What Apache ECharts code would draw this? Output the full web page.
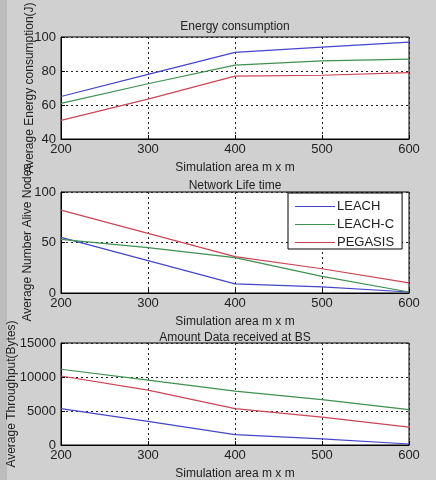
<!DOCTYPE html>
<html>
<head>
<meta charset="utf-8">
<script src="https://cdn.jsdelivr.net/npm/echarts@6/dist/echarts.min.js"></script>
<style>
html,body{margin:0;padding:0;background:#d0d0d0;}
#main{width:436px;height:480px;}
</style>
</head>
<body>
<div id="main"></div>
<script>
// simulation area (m x m)
var areas = [200, 300, 400, 500, 600];
var names = ['LEACH', 'LEACH-C', 'PEGASIS'];

// Energy consumption
var energyLeach = [65, 78, 91, 94, 97];
var energyLeachC = [61, 72.5, 83.5, 86, 87];
var energyPegasis = [51, 63.5, 77, 77.5, 79];

// Network life time
var lifeLeach = [55, 32, 9, 6, 1];
var lifeLeachC = [53, 45, 35, 16.5, 1];
var lifePegasis = [82, 59, 36, 24, 10];

// Amount data received at BS
var dataLeach = [5350, 3470, 1530, 890, 150];
var dataLeachC = [11140, 9550, 7920, 6680, 5200];
var dataPegasis = [10150, 8070, 5350, 4110, 2620];

var colors = ['#4545cc', '#3e9150', '#cc4455'];
var font = 'Liberation Sans';

function pairs(ys) {
    return areas.map(function (x, i) { return [x, ys[i]]; });
}

function makeX(idx) {
    return {
        type: 'value', gridIndex: idx, min: 200, max: 600, interval: 100,
        name: 'Simulation area m x m', nameLocation: 'middle', nameGap: 23,
        nameMoveOverlap: false,
        nameTextStyle: {color: '#222', fontSize: 12, fontFamily: font},
        axisLine: {show: true, lineStyle: {color: '#000'}},
        axisTick: {show: true, inside: true, length: 4, lineStyle: {color: '#000'}},
        axisLabel: {color: '#222', fontSize: 13, fontFamily: font, margin: 4},
        splitLine: {show: true, lineStyle: {color: '#222', type: [2, 3], width: 1}}
    };
}

function makeY(idx, min, max, step, title, gap) {
    return {
        type: 'value', gridIndex: idx, min: min, max: max, interval: step,
        name: title, nameLocation: 'middle', nameGap: gap,
        nameMoveOverlap: false,
        nameTextStyle: {color: '#222', fontSize: 12, fontFamily: font},
        axisLine: {show: true, lineStyle: {color: '#000'}},
        axisTick: {show: true, inside: true, length: 4, lineStyle: {color: '#000'}},
        axisLabel: {color: '#222', fontSize: 13, fontFamily: font, margin: 5,
            formatter: function (v) { return String(v); }},
        splitLine: {show: true, lineStyle: {color: '#222', type: [2, 3], width: 1}}
    };
}

function line(name, ys, idx, k) {
    return {
        name: name, type: 'line', xAxisIndex: idx, yAxisIndex: idx,
        data: pairs(ys), symbol: 'none', silent: true,
        lineStyle: {color: colors[k], width: 1.2},
        itemStyle: {color: colors[k]}
    };
}

var gridBase = {left: 61, right: 27, show: true, backgroundColor: '#fff', borderColor: '#000', borderWidth: 1,
    outerBoundsMode: 'none', containLabel: false};

var titleStyle = {color: '#222', fontSize: 12, fontWeight: 'normal', fontFamily: font};

var option = {
    backgroundColor: '#d0d0d0',
    animation: false,
    title: [
        {text: 'Energy consumption', left: 235, textAlign: 'center', top: 21, padding: 0, textStyle: titleStyle},
        {text: 'Network Life time', left: 235, textAlign: 'center', top: 180, padding: 0, textStyle: titleStyle},
        {text: 'Amount Data received at BS', left: 235, textAlign: 'center', top: 332, padding: 0, textStyle: titleStyle}
    ],
    grid: [
        Object.assign({top: 37, height: 102}, gridBase),
        Object.assign({top: 192, height: 101}, gridBase),
        Object.assign({top: 343, height: 102}, gridBase)
    ],
    legend: {
        data: names.map(function (n) { return {name: n, icon: 'rect'}; }),
        orient: 'vertical', left: 288, top: 193,
        backgroundColor: '#fff', borderColor: '#000', borderWidth: 1,
        padding: [7, 8, 0, 7], itemGap: 5, itemWidth: 40, itemHeight: 1,
        textStyle: {color: '#222', fontSize: 13, fontFamily: font, lineHeight: 12, padding: [0, 0, 0, -3]},
        selectedMode: false
    },
    graphic: [
        {type: 'rect', shape: {x: 0, y: 0, width: 7, height: 480}, style: {fill: '#bdbdbd'}, z: -1}
    ],
    xAxis: [makeX(0), makeX(1), makeX(2)],
    yAxis: [
        makeY(0, 40, 100, 20, 'Average Energy consumption(J)', 25),
        makeY(1, 0, 100, 50, 'Average Number Alive Nodes', 27),
        makeY(2, 0, 15000, 5000, 'Average Throughput(Bytes)', 43)
    ],
    series: [
        line(names[0], energyLeach, 0, 0),
        line(names[1], energyLeachC, 0, 1),
        line(names[2], energyPegasis, 0, 2),
        line(names[0], lifeLeach, 1, 0),
        line(names[1], lifeLeachC, 1, 1),
        line(names[2], lifePegasis, 1, 2),
        line(names[0], dataLeach, 2, 0),
        line(names[1], dataLeachC, 2, 1),
        line(names[2], dataPegasis, 2, 2)
    ]
};

var chart = echarts.init(document.getElementById('main'));
chart.setOption(option);
</script>
</body>
</html>
